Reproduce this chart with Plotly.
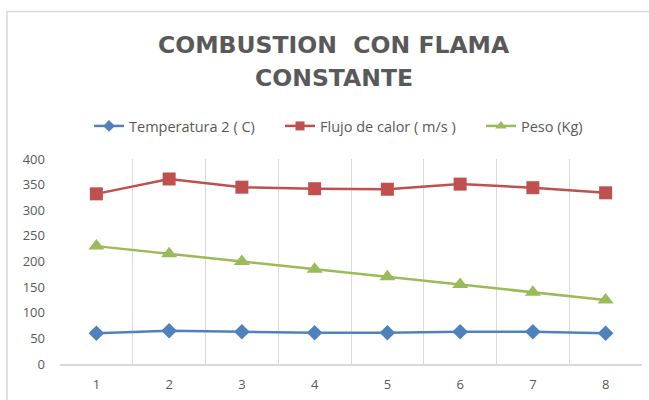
import plotly.graph_objects as go

# Data series
samples = [1, 2, 3, 4, 5, 6, 7, 8]
temperatura = [60, 65, 63, 61, 61, 63, 63, 60]
flujo_calor = [332, 361, 345, 342, 341, 351, 344, 334]
peso = [230, 215, 200, 185, 170, 155, 140, 125]

series_names = ["Temperatura 2 ( C)", "Flujo de calor ( m/s )", "Peso (Kg)"]
title_lines = ["COMBUSTION  CON FLAMA", "CONSTANTE"]
y_ticks = [0, 50, 100, 150, 200, 250, 300, 350, 400]

TEXT = "#595959"
GRID = "#d9d9d9"
FONT = "Open Sans"
W, H = 649, 400
L, R, T, B = 60, 7, 159, 36

styles = [
    dict(color="#4F81BD", symbol="diamond", size=12, legend_size=9),
    dict(color="#C0504D", symbol="square", size=13, legend_size=9),
    dict(color="#9BBB59", symbol="triangle-up", size=14, legend_size=10),
]
values = [temperatura, flujo_calor, peso]
legend_ids = ["legend", "legend2", "legend3"]
legend_x_px = [89, 280, 481]

fig = go.Figure()
for name, vals, st, lid in zip(series_names, values, styles, legend_ids):
    # plotted series
    fig.add_trace(go.Scatter(
        x=samples, y=vals, name=name, mode="lines+markers", showlegend=False,
        line=dict(color=st["color"], width=2.5),
        marker=dict(symbol=st["symbol"], size=st["size"], color=st["color"]),
    ))
    # legend entry with a smaller marker
    fig.add_trace(go.Scatter(
        x=[None], y=[None], name=name, mode="lines+markers", legend=lid,
        line=dict(color=st["color"], width=2.5),
        marker=dict(symbol=st["symbol"], size=st["legend_size"], color=st["color"]),
    ))

legend_common = dict(
    orientation="h", yref="container", y=1 - 126 / H, yanchor="middle",
    xref="container", xanchor="left",
    font=dict(size=14.5, color=TEXT, family=FONT), bgcolor="rgba(0,0,0,0)",
)

fig.update_layout(
    width=W, height=H,
    margin=dict(l=L, r=R, t=T, b=B, autoexpand=False),
    paper_bgcolor="white", plot_bgcolor="white",
    font=dict(family=FONT, color=TEXT, size=12),
    legend=dict(x=legend_x_px[0] / W, **legend_common),
    legend2=dict(x=legend_x_px[1] / W, **legend_common),
    legend3=dict(x=legend_x_px[2] / W, **legend_common),
    xaxis=dict(
        range=[0.5, 8.5], tickmode="array", tickvals=samples,
        ticktext=[str(s) for s in samples],
        showgrid=False, zeroline=False,
        showline=True, linecolor=GRID, linewidth=1.5,
        ticks="", ticklabelstandoff=8,
        tickfont=dict(size=13, color=TEXT),
        minor=dict(tick0=0.5, dtick=1, showgrid=True, gridcolor=GRID, gridwidth=1),
        fixedrange=True,
    ),
    yaxis=dict(
        range=[0, 400], tickmode="array", tickvals=y_ticks,
        showgrid=False, zeroline=False, showline=False,
        ticks="", ticklabelstandoff=14,
        tickfont=dict(size=13, color=TEXT),
        fixedrange=True,
    ),
)

# Title, one annotation per line
for text, ypx in zip(title_lines, [45, 78]):
    fig.add_annotation(
        text=f"<b>{text}</b>", xref="paper", yref="paper",
        x=(334 - L) / (W - L - R), y=(H - B - ypx) / (H - T - B), showarrow=False,
        xanchor="center", yanchor="middle",
        font=dict(family="DejaVu Sans", size=23.5, color=TEXT),
    )

# Chart frame (runs past the right and bottom edges of the page)
fig.add_shape(
    type="rect", xref="paper", yref="paper",
    x0=(7 - L) / (W - L - R), x1=1.2,
    y0=-0.5, y1=(H - B - 11.5) / (H - T - B),
    line=dict(color=GRID, width=1.5), fillcolor="rgba(0,0,0,0)", layer="below",
)

fig.write_html("out.html")
